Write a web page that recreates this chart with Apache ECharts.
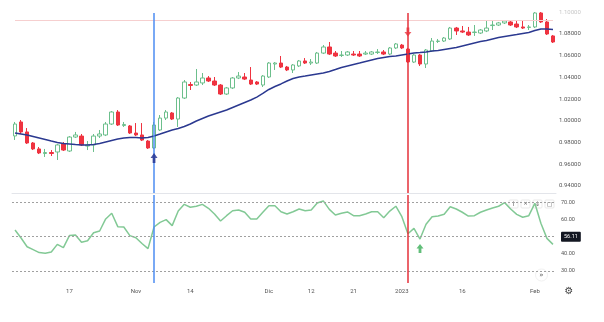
<!DOCTYPE html>
<html><head><meta charset="utf-8">
<script src="https://cdn.jsdelivr.net/npm/echarts@6/dist/echarts.min.js"></script>
<style>html,body{margin:0;padding:0;background:#fff}#c{width:604px;height:322px}</style>
</head><body><div id="c"></div>
<script>
const dates = [
'2022-10-04','2022-10-05','2022-10-06','2022-10-07','2022-10-10','2022-10-11','2022-10-12','2022-10-13','2022-10-14','2022-10-17',
'2022-10-18','2022-10-19','2022-10-20','2022-10-21','2022-10-24','2022-10-25','2022-10-26','2022-10-27','2022-10-28','2022-10-31',
'2022-11-01','2022-11-02','2022-11-03','2022-11-04','2022-11-07','2022-11-08','2022-11-09','2022-11-10','2022-11-11','2022-11-14',
'2022-11-15','2022-11-16','2022-11-17','2022-11-18','2022-11-21','2022-11-22','2022-11-23','2022-11-24','2022-11-25','2022-11-28',
'2022-11-29','2022-11-30','2022-12-01','2022-12-02','2022-12-05','2022-12-06','2022-12-07','2022-12-08','2022-12-09','2022-12-12',
'2022-12-13','2022-12-14','2022-12-15','2022-12-16','2022-12-19','2022-12-20','2022-12-21','2022-12-22','2022-12-23','2022-12-26',
'2022-12-27','2022-12-28','2022-12-29','2022-12-30','2023-01-02','2023-01-03','2023-01-04','2023-01-05','2023-01-06','2023-01-09',
'2023-01-10','2023-01-11','2023-01-12','2023-01-13','2023-01-16','2023-01-17','2023-01-18','2023-01-19','2023-01-20','2023-01-23',
'2023-01-24','2023-01-25','2023-01-26','2023-01-27','2023-01-30','2023-01-31','2023-02-01','2023-02-02','2023-02-03','2023-02-06'];

const opens = [
0.9859,0.9988,0.9896,0.9794,0.9739,0.9697,0.9706,0.9711,0.9785,0.9720,
0.9849,0.9858,0.9766,0.9776,0.9858,0.9868,0.9969,1.0080,0.9955,0.9951,
0.9886,0.9868,0.9812,0.9748,0.9914,1.0024,1.0071,1.0015,1.0209,1.0334,
1.0329,1.0348,1.0394,1.0366,1.0329,1.0246,1.0302,1.0394,1.0403,1.0375,
1.0357,1.0329,1.0403,1.0523,1.0532,1.0495,1.0468,1.0505,1.0551,1.0532,
1.0532,1.0624,1.0680,1.0624,1.0602,1.0606,1.0615,1.0615,1.0615,1.0615,
1.0629,1.0634,1.0615,1.0671,1.0698,1.0661,1.0541,1.0606,1.0523,1.0643,
1.0731,1.0735,1.0754,1.0855,1.0828,1.0818,1.0814,1.0809,1.0828,1.0878,
1.0883,1.0902,1.0911,1.0892,1.0865,1.0860,1.0865,1.0994,1.0911,1.0782];
const closes = [
0.9969,0.9896,0.9794,0.9739,0.9702,0.9706,0.9697,0.9776,0.9729,0.9849,
0.9868,0.9776,0.9776,0.9858,0.9877,0.9969,1.0080,0.9960,0.9965,0.9886,
0.9868,0.9821,0.9748,0.9960,1.0024,1.0080,1.0015,1.0209,1.0357,1.0325,
1.0357,1.0394,1.0366,1.0329,1.0246,1.0302,1.0394,1.0412,1.0384,1.0338,
1.0338,1.0412,1.0532,1.0532,1.0495,1.0468,1.0514,1.0551,1.0532,1.0541,
1.0624,1.0680,1.0615,1.0597,1.0606,1.0634,1.0606,1.0597,1.0624,1.0634,
1.0634,1.0615,1.0671,1.0708,1.0671,1.0542,1.0606,1.0523,1.0652,1.0735,
1.0735,1.0763,1.0855,1.0828,1.0818,1.0791,1.0818,1.0837,1.0855,1.0883,
1.0902,1.0920,1.0883,1.0865,1.0855,1.0865,1.0994,1.0911,1.0800,1.0726];
const highs = [
0.9988,1.0006,0.9932,0.9803,0.9757,0.9739,0.9729,0.9785,0.9803,0.9858,
0.9896,0.9877,0.9812,0.9877,0.9914,0.9988,1.0089,1.0098,0.9988,0.9960,
0.9978,0.9978,0.9821,0.9988,1.0052,1.0098,1.0080,1.0218,1.0375,1.0357,
1.0477,1.0440,1.0412,1.0403,1.0338,1.0311,1.0403,1.0449,1.0440,1.0495,
1.0366,1.0421,1.0541,1.0541,1.0597,1.0505,1.0523,1.0560,1.0578,1.0569,
1.0634,1.0698,1.0726,1.0643,1.0643,1.0643,1.0643,1.0643,1.0643,1.0643,
1.0661,1.0652,1.0680,1.0717,1.0708,1.0671,1.0615,1.0615,1.0661,1.0763,
1.0754,1.0772,1.0865,1.0865,1.0874,1.0865,1.0883,1.0846,1.0920,1.0929,
1.0911,1.0929,1.0920,1.0929,1.0929,1.0883,1.1003,1.1003,1.0938,1.0791];
const lows = [
0.9822,0.9877,0.9785,0.9729,0.9692,0.9665,0.9674,0.9637,0.9720,0.9711,
0.9840,0.9766,0.9729,0.9711,0.9840,0.9858,0.9960,0.9951,0.9942,0.9877,
0.9858,0.9812,0.9739,0.9739,0.9905,1.0006,1.0006,0.9942,1.0200,1.0283,
1.0320,1.0329,1.0357,1.0320,1.0237,1.0237,1.0292,1.0384,1.0375,1.0329,
1.0329,1.0311,1.0394,1.0468,1.0486,1.0458,1.0440,1.0495,1.0523,1.0514,
1.0523,1.0615,1.0606,1.0588,1.0588,1.0597,1.0597,1.0588,1.0606,1.0606,
1.0615,1.0606,1.0606,1.0661,1.0661,1.0532,1.0532,1.0505,1.0486,1.0634,
1.0717,1.0726,1.0745,1.0791,1.0809,1.0782,1.0782,1.0800,1.0818,1.0837,
1.0874,1.0892,1.0874,1.0855,1.0846,1.0837,1.0855,1.0902,1.0791,1.0717];
const maValues = [
0.9886,0.9877,0.9868,0.9854,0.9840,0.9826,0.9812,0.9799,0.9789,0.9785,
0.9780,0.9776,0.9776,0.9780,0.9789,0.9803,0.9817,0.9831,0.9840,0.9845,
0.9845,0.9840,0.9845,0.9859,0.9877,0.9896,0.9914,0.9928,0.9946,0.9969,
0.9997,1.0020,1.0043,1.0062,1.0080,1.0098,1.0122,1.0145,1.0168,1.0191,
1.0218,1.0251,1.0288,1.0315,1.0339,1.0366,1.0389,1.0403,1.0412,1.0422,
1.0431,1.0440,1.0454,1.0472,1.0491,1.0505,1.0519,1.0532,1.0546,1.0560,
1.0574,1.0583,1.0592,1.0597,1.0606,1.0615,1.0625,1.0629,1.0634,1.0643,
1.0648,1.0657,1.0666,1.0675,1.0689,1.0703,1.0717,1.0731,1.0740,1.0754,
1.0768,1.0777,1.0786,1.0795,1.0805,1.0814,1.0832,1.0846,1.0846,1.0841];
const rsiValues = [
53.9,49.2,44.1,42.4,40.7,40.3,41.1,45.5,43.6,50.6,
51.0,46.7,47.6,52.3,53.3,60.3,63.6,55.8,55.6,50.6,
49.4,46.0,43.0,55.6,58.3,59.9,56.4,64.9,68.8,67.1,
67.7,68.8,66.5,63.2,59.1,62.2,65.1,65.5,64.2,60.3,
60.3,64.2,68.0,68.0,64.5,63.2,64.5,66.1,65.1,65.5,
69.6,70.8,65.9,62.6,63.6,64.4,62.2,62.2,63.2,64.5,
64.5,61.0,64.9,67.7,61.6,51.7,54.8,48.6,57.2,61.6,
62.0,63.0,67.4,66.1,64.2,62.0,62.2,64.2,65.5,66.7,
67.7,69.8,66.1,63.0,61.3,62.2,69.4,57.8,49.0,45.5];

const priceTicks = [0.94,0.96,0.98,1.00,1.02,1.04,1.06,1.08,1.10];
const rsiTicks = [30,40,50,60,70];
const rsiLevels = [70,50,30];
const rsiLast = '56.11';
const timeTickLabels = {'2022-10-17':'17','2022-11-01':'Nov','2022-11-14':'14','2022-12-01':'Dic',
  '2022-12-12':'12','2022-12-21':'21','2023-01-02':'2023','2023-01-16':'16','2023-02-01':'Feb'};
const blueLineDate = '2022-11-04';
const redLineDate = '2023-01-03';
const horizontalLevel = 1.0926;
const buyArrowPrice = [['2022-11-04', 0.9655]];
const sellArrowPrice = [['2023-01-03', 1.0819]];
const rsiArrow = [['2023-01-05', 43.1]];

const candles = dates.map((d,i)=>[opens[i],closes[i],lows[i],highs[i]]);
const FONT = 'Roboto';
const UP = 'path://M5,0L10,5L7,5L7,10L3,10L3,5L0,5Z';
const DOWN = 'path://M3,0L7,0L7,5L10,5L5,10L0,5L3,5Z';
const PMIN = 0.93324, PMAX = 1.11138;

const chart = echarts.init(document.getElementById('c'), null, {renderer:'canvas'});
chart.setOption({
  animation:false,
  backgroundColor:'#ffffff',
  textStyle:{fontFamily:FONT},
  grid:[
    {left:12, right:48, top:0, height:193},
    {left:12, right:48, top:195, height:88}
  ],
  xAxis:[
    {type:'category', gridIndex:0, data:dates, boundaryGap:true,
     axisLine:{show:true, lineStyle:{color:'#e3e5ea'}}, axisTick:{show:false}, axisLabel:{show:false}, splitLine:{show:false}},
    {type:'category', gridIndex:1, data:dates, boundaryGap:true,
     axisLine:{show:false}, axisTick:{show:false}, splitLine:{show:false},
     axisLabel:{interval:(idx,val)=>timeTickLabels[val]!==undefined, formatter:v=>timeTickLabels[v]||'',
       fontSize:6, color:'#555', margin:5, fontFamily:FONT}}
  ],
  yAxis:[
    {type:'value', gridIndex:0, position:'right', min:PMIN, max:PMAX, scale:true,
     axisLine:{show:false}, axisTick:{show:false}, splitLine:{show:false},
     axisLabel:{customValues:priceTicks, fontSize:6, color:'#555', margin:3, fontFamily:FONT,
       formatter:v=> v>1.09 ? '{f|'+v.toFixed(5)+'}' : v.toFixed(5),
       rich:{f:{color:'#c8c8c8', fontSize:6, fontFamily:FONT}}}},
    {type:'value', gridIndex:1, position:'right', min:23.0, max:74.25,
     axisLine:{show:false}, axisTick:{show:false}, splitLine:{show:false},
     axisLabel:{customValues:rsiTicks, fontSize:5.5, color:'#555', margin:5, fontFamily:FONT,
       formatter:v=> v===50 ? '{b|'+rsiLast+'}' : v.toFixed(2),
       rich:{b:{backgroundColor:'#131722', color:'#fff', fontSize:5.5, padding:[2,3], borderRadius:1, fontFamily:FONT}}}}
  ],
  series:[
    {type:'candlestick', xAxisIndex:0, yAxisIndex:0, data:candles, barWidth:4,
     itemStyle:{color:'#ffffff', color0:'#ef3340', borderColor:'#6cbf8c', borderColor0:'#ef3340', borderWidth:1},
     markLine:{silent:true, symbol:['none','none'], label:{show:false},
       data:[
         [{coord:[dates[0],horizontalLevel], lineStyle:{color:'#f6cfcf', width:1, type:'solid'}},{coord:[dates[dates.length-1],horizontalLevel]}],
         [{coord:[blueLineDate,1.0994], lineStyle:{color:'#4d8cf2', width:1.5, type:'solid'}},{coord:[blueLineDate,PMIN]}],
         [{coord:[redLineDate,1.0994], lineStyle:{color:'#e5303a', width:1.5, type:'solid'}},{coord:[redLineDate,PMIN]}]
       ]}},
    {type:'line', xAxisIndex:0, yAxisIndex:0, data:maValues, symbol:'none', smooth:false,
     lineStyle:{color:'#2b3990', width:1.5}, z:3},
    {type:'scatter', xAxisIndex:0, yAxisIndex:0, data:buyArrowPrice, symbol:UP, symbolSize:[7,10],
     itemStyle:{color:'#1d2b8c'}, z:5},
    {type:'scatter', xAxisIndex:0, yAxisIndex:0, data:sellArrowPrice, symbol:DOWN, symbolSize:[7,9],
     itemStyle:{color:'#e8303a'}, z:5},
    {type:'line', xAxisIndex:1, yAxisIndex:1, data:rsiValues, symbol:'none', smooth:false,
     lineStyle:{color:'#82c995', width:1.5}, z:3,
     markLine:{silent:true, symbol:['none','none'], label:{show:false},
       data: rsiLevels.map(v=>({yAxis:v, lineStyle:{color:'#a0a0a0', width:1, type:[2,2]}}))
         .concat([
           {xAxis:blueLineDate, lineStyle:{color:'#4d8cf2', width:1.5, type:'solid'}},
           {xAxis:redLineDate, lineStyle:{color:'#e5303a', width:1.5, type:'solid'}}
         ])}},
    {type:'scatter', xAxisIndex:1, yAxisIndex:1, data:rsiArrow, symbol:UP, symbolSize:[7,9],
     itemStyle:{color:'#3aae57'}, z:5}
  ],
  graphic:[
    {type:'group', children:[
      {type:'rect', shape:{x:509,y:200,width:9,height:8,r:1}, style:{fill:'#fff',stroke:'#e3e3e3',lineWidth:0.8}},
      {type:'text', style:{x:513.5,y:204,text:'↑',fontSize:6,fill:'#555',align:'center',verticalAlign:'middle',fontFamily:'DejaVu Sans'}},
      {type:'rect', shape:{x:521,y:200,width:9,height:8,r:1}, style:{fill:'#fff',stroke:'#e3e3e3',lineWidth:0.8}},
      {type:'text', style:{x:525.5,y:204,text:'✕',fontSize:5,fill:'#555',align:'center',verticalAlign:'middle',fontFamily:'DejaVu Sans'}},
      {type:'rect', shape:{x:533,y:200,width:9,height:8,r:1}, style:{fill:'#fff',stroke:'#e3e3e3',lineWidth:0.8}},
      {type:'text', style:{x:537.5,y:204,text:'⇕',fontSize:6,fill:'#555',align:'center',verticalAlign:'middle',fontFamily:'DejaVu Sans'}},
      {type:'rect', shape:{x:545,y:200,width:9,height:8,r:1}, style:{fill:'#fff',stroke:'#e3e3e3',lineWidth:0.8}},
      {type:'text', style:{x:549.5,y:204,text:'▢',fontSize:6,fill:'#555',align:'center',verticalAlign:'middle',fontFamily:'DejaVu Sans'}},
      {type:'circle', shape:{cx:541.5,cy:275,r:6}, style:{fill:'#fff',stroke:'#ececec',lineWidth:0.8}},
      {type:'text', style:{x:541.5,y:275,text:'»',fontSize:7,fill:'#555',align:'center',verticalAlign:'middle',fontFamily:'DejaVu Sans'}},
      {type:'text', style:{x:569,y:291,text:'⚙',fontSize:10,fill:'#444',align:'center',verticalAlign:'middle',fontFamily:'DejaVu Sans'}}
    ]}
  ]
});
</script></body></html>
